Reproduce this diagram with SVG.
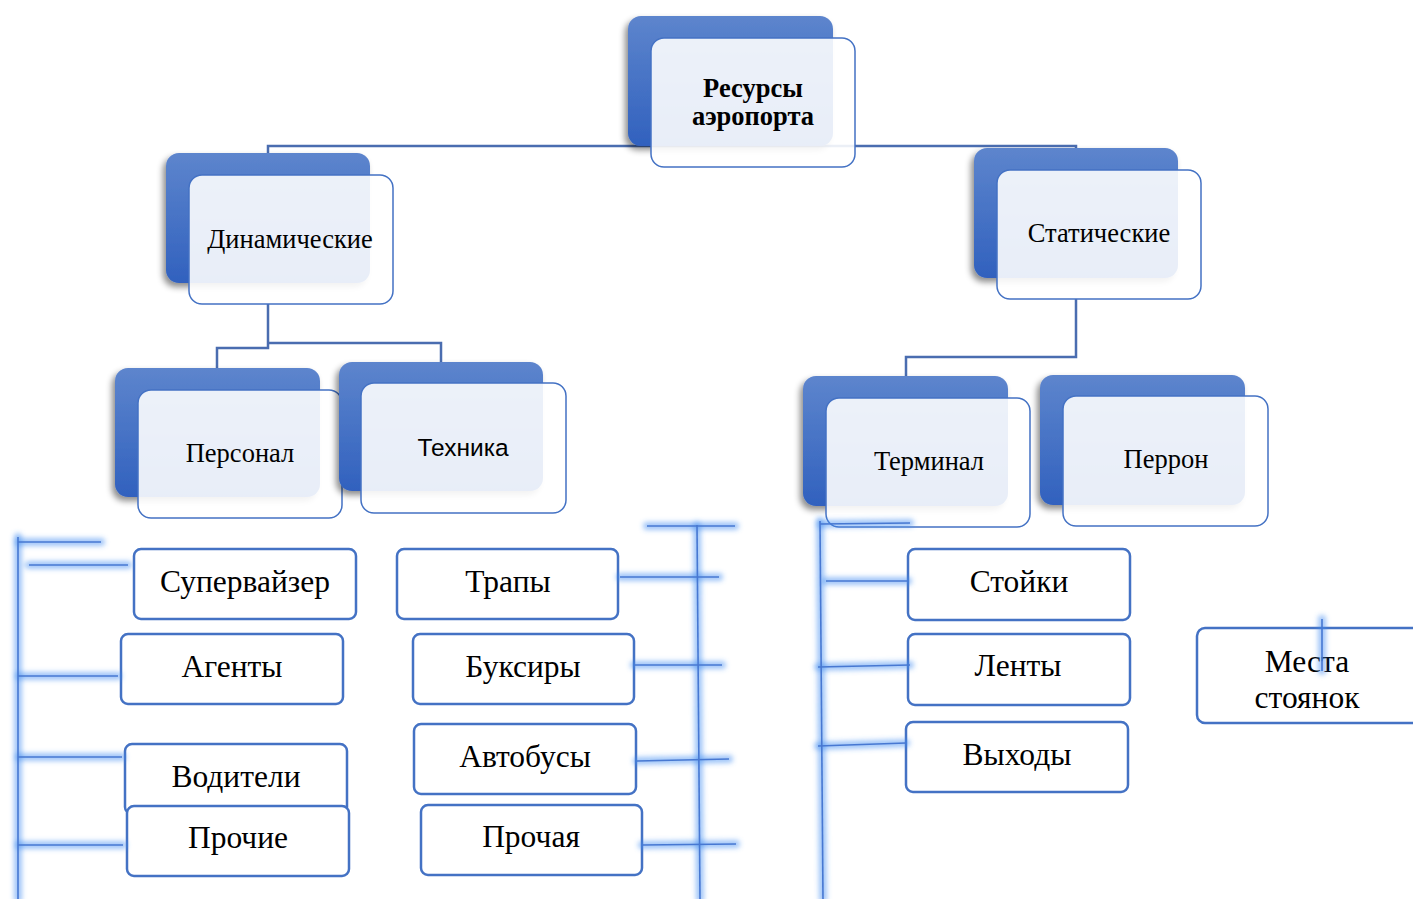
<svg xmlns="http://www.w3.org/2000/svg" width="1413" height="899" viewBox="0 0 1413 899">
  <defs>
    <linearGradient id="backGrad" x1="0" y1="0" x2="0" y2="1">
      <stop offset="0" stop-color="#5d85cd"/>
      <stop offset="1" stop-color="#3161be"/>
    </linearGradient>
    <filter id="shadow" x="-20%" y="-20%" width="140%" height="150%">
      <feDropShadow dx="-3" dy="4" stdDeviation="3" flood-color="#000" flood-opacity="0.45"/>
    </filter>
    <filter id="glowBlur" x="-50%" y="-50%" width="200%" height="200%">
      <feGaussianBlur stdDeviation="2.4"/>
    </filter>
    <style>
      .back { fill: url(#backGrad); filter: url(#shadow); }
      .front { fill: #ffffff; fill-opacity: 0.89; stroke: #4472c4; stroke-width: 1.5; }
      .conn { fill: none; stroke: #4a6db0; stroke-width: 2.5; }
      .box { fill: #ffffff; stroke: #4472c4; stroke-width: 2.5; }
      .lbl { font-family: "Liberation Serif", "Times New Roman", serif; font-size: 26.5px; fill: #000; text-anchor: middle; }
      .lblb { font-family: "Liberation Serif", "Times New Roman", serif; font-size: 26.5px; font-weight: bold; fill: #000; text-anchor: middle; }
      .lbls { font-family: "Liberation Sans", Arial, sans-serif; font-size: 24.5px; fill: #000; text-anchor: middle; }
      .big { font-family: "Liberation Serif", "Times New Roman", serif; font-size: 31.5px; fill: #000; text-anchor: middle; }
      .halo { fill: none; stroke: #3f8ef2; stroke-width: 8; stroke-opacity: 0.5; stroke-linecap: round; filter: url(#glowBlur); }
      .core { fill: none; stroke: #4778d2; stroke-width: 1.6; }
    </style>
  </defs>

  <!-- tree connectors -->
  <g id="connectors">
    <polyline class="conn" points="268,153 268,146 1076,146 1076,148"/>
    <polyline class="conn" points="268,304 268,348 217,348 217,368"/>
    <polyline class="conn" points="268,343 441,343 441,362"/>
    <polyline class="conn" points="1076,299 1076,357 906,357 906,376"/>
  </g>

  <!-- upper hierarchy nodes -->
  <g id="node-root">
    <rect class="back" x="628" y="16" width="205" height="130" rx="13"/>
    <rect class="front" x="651" y="38" width="204" height="129" rx="13"/>
    <text class="lblb" x="753" y="97">Ресурсы</text>
    <text class="lblb" x="753" y="125">аэропорта</text>
  </g>
  <g id="node-dynamic">
    <rect class="back" x="166" y="153" width="204" height="130" rx="13"/>
    <rect class="front" x="189" y="175" width="204" height="129" rx="13"/>
    <text class="lbl" x="290" y="248">Динамические</text>
  </g>
  <g id="node-static">
    <rect class="back" x="974" y="148" width="204" height="130" rx="13"/>
    <rect class="front" x="997" y="170" width="204" height="129" rx="13"/>
    <text class="lbl" x="1099" y="242">Статические</text>
  </g>
  <g id="node-personnel">
    <rect class="back" x="115" y="368" width="205" height="129" rx="13"/>
    <rect class="front" x="138" y="390" width="204" height="128" rx="13"/>
    <text class="lbl" x="240" y="462">Персонал</text>
  </g>
  <g id="node-equipment">
    <rect class="back" x="339" y="362" width="204" height="129" rx="13"/>
    <rect class="front" x="361" y="383" width="205" height="130" rx="13"/>
    <text class="lbls" x="463" y="456">Техника</text>
  </g>
  <g id="node-terminal">
    <rect class="back" x="803" y="376" width="205" height="130" rx="13"/>
    <rect class="front" x="826" y="398" width="204" height="129" rx="13"/>
    <text class="lbl" x="929" y="470">Терминал</text>
  </g>
  <g id="node-apron">
    <rect class="back" x="1040" y="375" width="205" height="130" rx="13"/>
    <rect class="front" x="1063" y="396" width="205" height="130" rx="13"/>
    <text class="lbl" x="1166" y="468">Перрон</text>
  </g>

  <!-- leaf boxes -->
  <g id="node-supervisor">
    <rect class="box" x="134" y="549" width="222" height="70" rx="7"/>
    <text class="big" x="245" y="592">Супервайзер</text>
  </g>
  <g id="node-agents">
    <rect class="box" x="121" y="634" width="222" height="70" rx="7"/>
    <text class="big" x="232" y="677">Агенты</text>
  </g>
  <g id="node-drivers">
    <rect class="box" x="125" y="744" width="222" height="70" rx="7"/>
    <text class="big" x="236" y="787">Водители</text>
  </g>
  <g id="node-other-staff">
    <rect class="box" x="127" y="806" width="222" height="70" rx="7"/>
    <text class="big" x="238" y="848">Прочие</text>
  </g>
  <g id="node-stairs">
    <rect class="box" x="397" y="549" width="221" height="70" rx="7"/>
    <text class="big" x="508" y="592">Трапы</text>
  </g>
  <g id="node-tugs">
    <rect class="box" x="413" y="634" width="221" height="70" rx="7"/>
    <text class="big" x="523" y="677">Буксиры</text>
  </g>
  <g id="node-buses">
    <rect class="box" x="414" y="724" width="222" height="70" rx="7"/>
    <text class="big" x="525" y="767">Автобусы</text>
  </g>
  <g id="node-other-equipment">
    <rect class="box" x="421" y="805" width="221" height="70" rx="7"/>
    <text class="big" x="531" y="847">Прочая</text>
  </g>
  <g id="node-counters">
    <rect class="box" x="908" y="549" width="222" height="71" rx="7"/>
    <text class="big" x="1019" y="592">Стойки</text>
  </g>
  <g id="node-belts">
    <rect class="box" x="908" y="634" width="222" height="71" rx="7"/>
    <text class="big" x="1018" y="676">Ленты</text>
  </g>
  <g id="node-gates">
    <rect class="box" x="906" y="722" width="222" height="70" rx="7"/>
    <text class="big" x="1017" y="765">Выходы</text>
  </g>
  <g id="node-stands">
    <rect class="box" x="1197" y="628" width="230" height="95" rx="8"/>
    <text class="big" x="1307" y="672">Места</text>
    <text class="big" x="1307" y="708">стоянок</text>
  </g>

  <!-- highlighted hand-drawn brackets -->
  <g id="glow-lines">
    <g class="halo">
      <line x1="18" y1="537" x2="18" y2="899"/>
      <line x1="18" y1="542" x2="101" y2="542"/>
      <line x1="29" y1="565" x2="128" y2="565"/>
      <line x1="18" y1="676" x2="118" y2="676"/>
      <line x1="18" y1="757" x2="122" y2="757"/>
      <line x1="18" y1="845" x2="123" y2="845"/>

      <line x1="697" y1="525" x2="700" y2="899"/>
      <line x1="647" y1="526" x2="735" y2="526"/>
      <line x1="620" y1="577" x2="719" y2="577"/>
      <line x1="634" y1="665" x2="722" y2="665"/>
      <line x1="637" y1="761" x2="729" y2="759"/>
      <line x1="642" y1="845" x2="736" y2="844"/>

      <line x1="820" y1="521" x2="823" y2="899"/>
      <line x1="820" y1="524" x2="910" y2="523"/>
      <line x1="826" y1="581" x2="908" y2="581"/>
      <line x1="818" y1="667" x2="910" y2="665"/>
      <line x1="818" y1="746" x2="906" y2="743"/>

      <line x1="1322" y1="619" x2="1322" y2="671"/>
    </g>
    <g class="core">
      <line x1="18" y1="537" x2="18" y2="899"/>
      <line x1="18" y1="542" x2="101" y2="542"/>
      <line x1="29" y1="565" x2="128" y2="565"/>
      <line x1="18" y1="676" x2="118" y2="676"/>
      <line x1="18" y1="757" x2="122" y2="757"/>
      <line x1="18" y1="845" x2="123" y2="845"/>

      <line x1="697" y1="525" x2="700" y2="899"/>
      <line x1="647" y1="526" x2="735" y2="526"/>
      <line x1="620" y1="577" x2="719" y2="577"/>
      <line x1="634" y1="665" x2="722" y2="665"/>
      <line x1="637" y1="761" x2="729" y2="759"/>
      <line x1="642" y1="845" x2="736" y2="844"/>

      <line x1="820" y1="521" x2="823" y2="899"/>
      <line x1="820" y1="524" x2="910" y2="523"/>
      <line x1="826" y1="581" x2="908" y2="581"/>
      <line x1="818" y1="667" x2="910" y2="665"/>
      <line x1="818" y1="746" x2="906" y2="743"/>

      <line x1="1322" y1="619" x2="1322" y2="671"/>
    </g>
  </g>
</svg>
